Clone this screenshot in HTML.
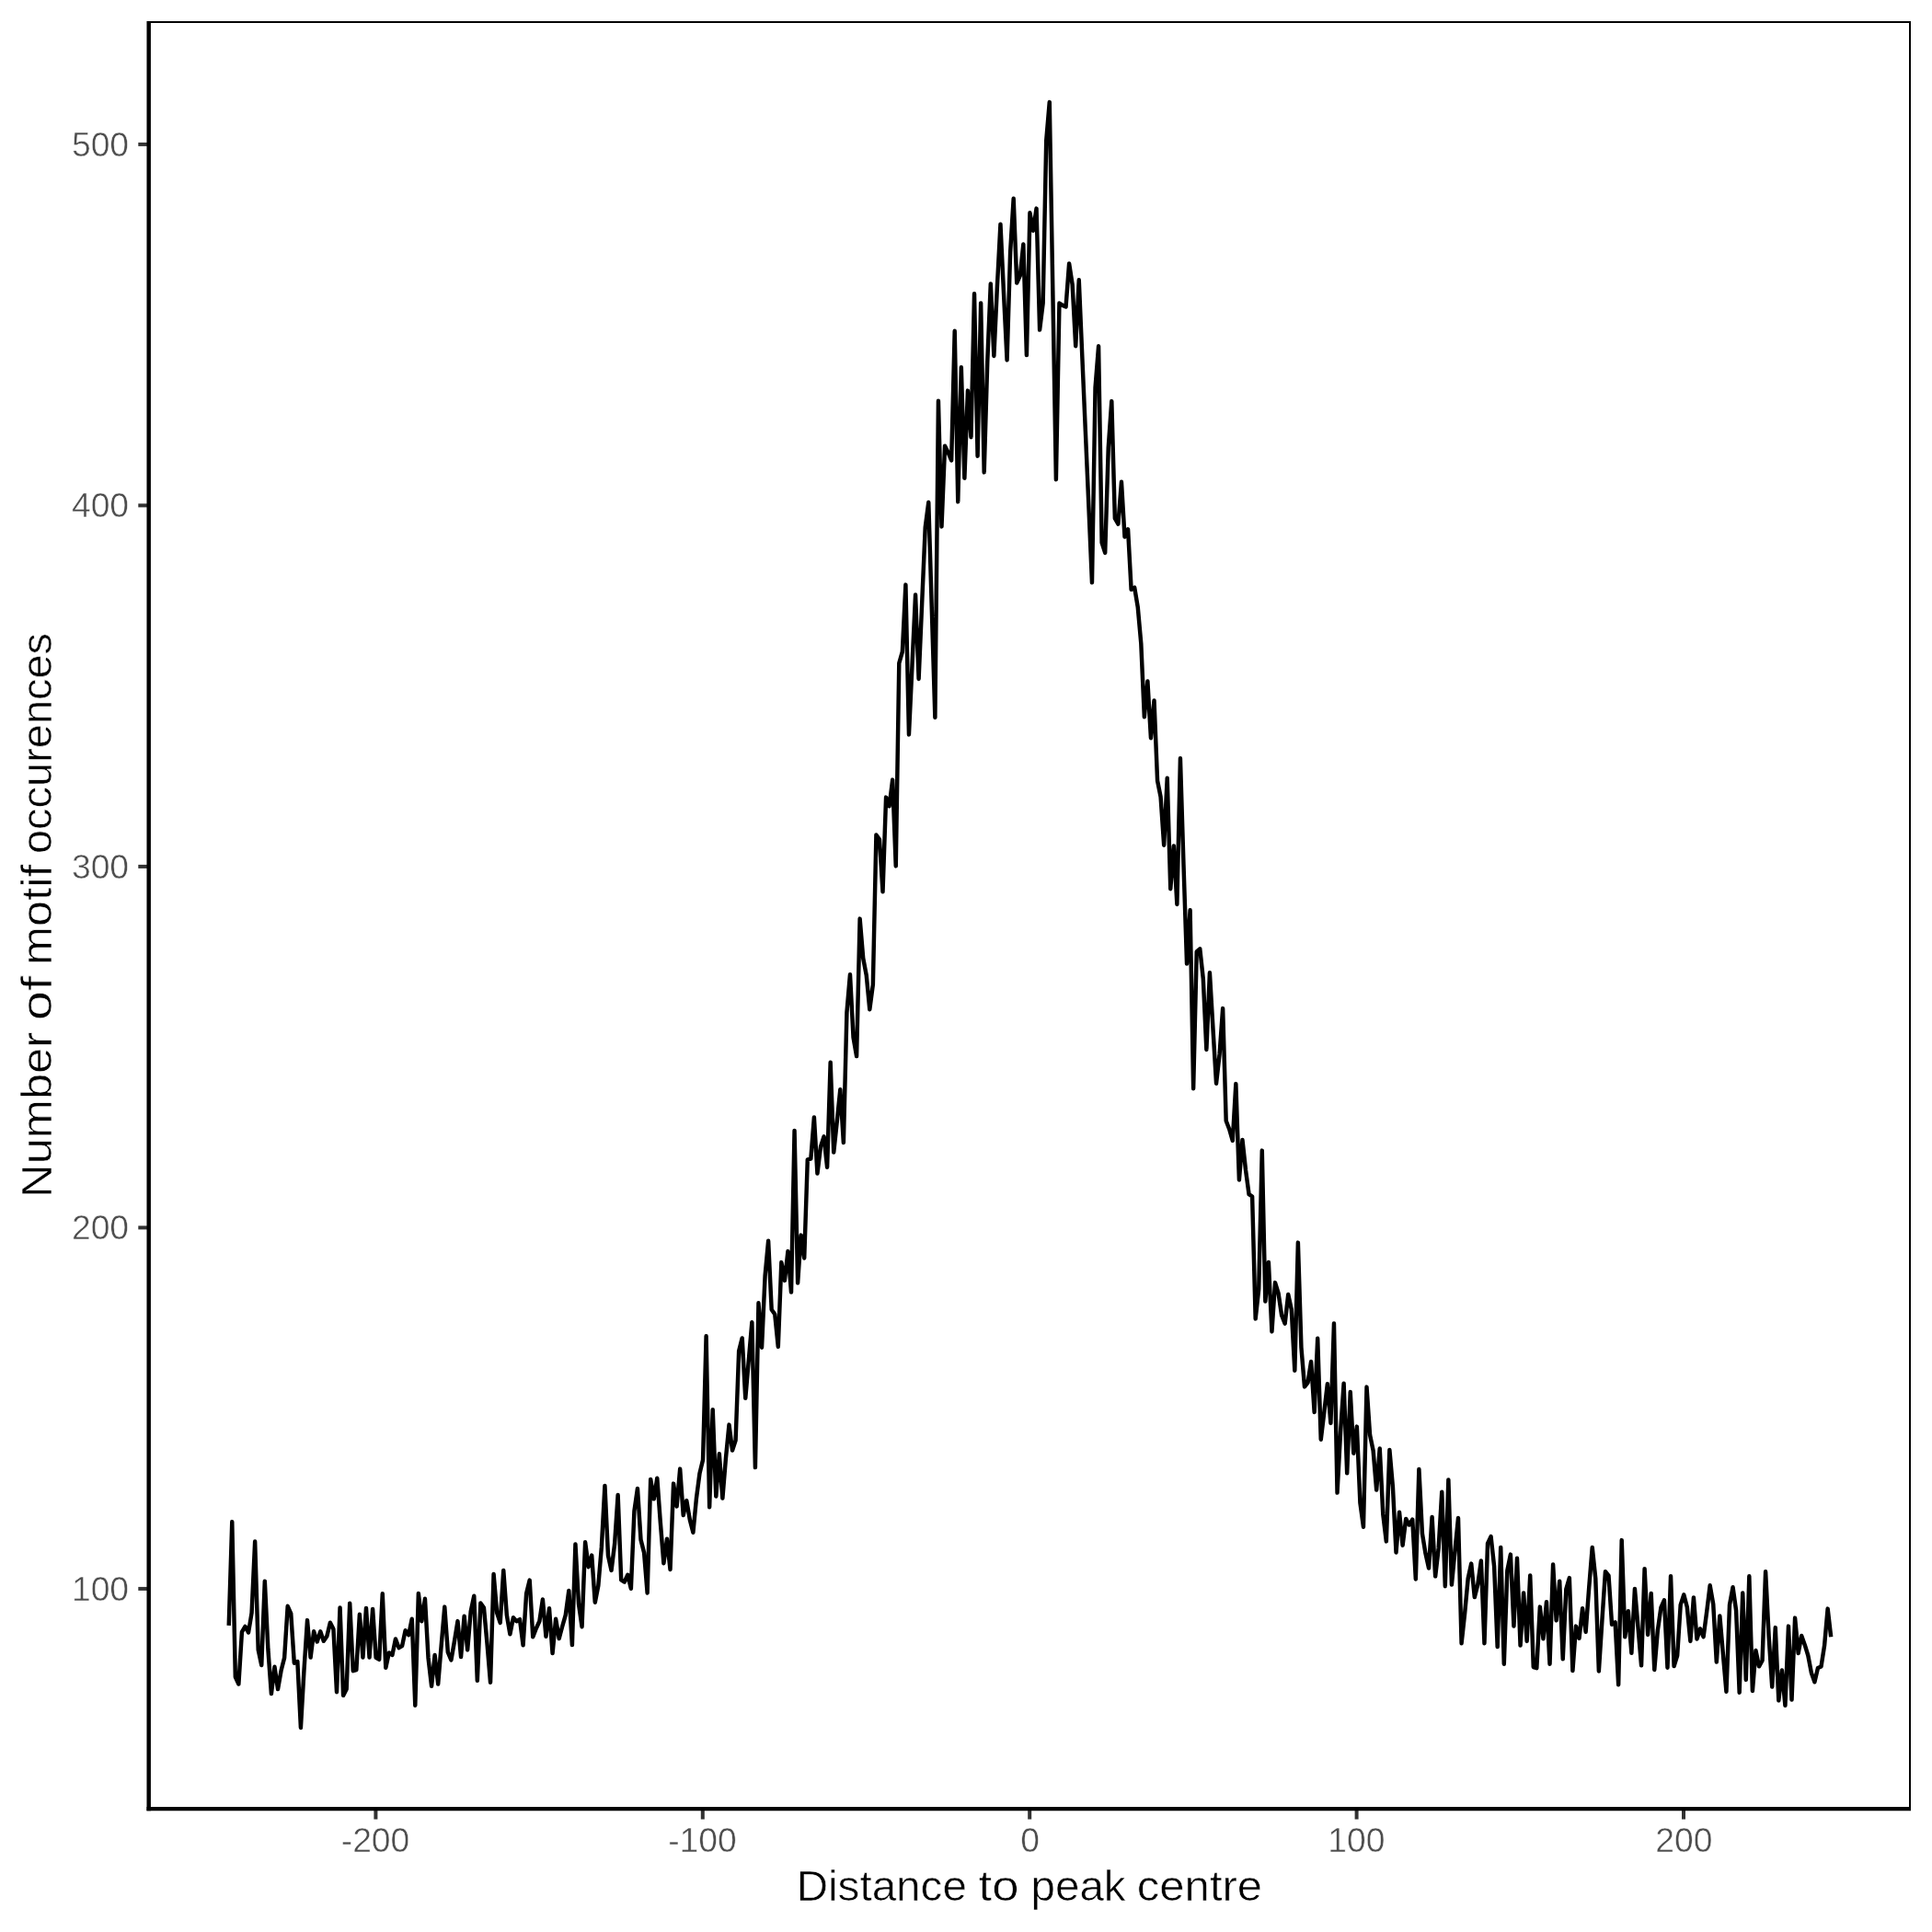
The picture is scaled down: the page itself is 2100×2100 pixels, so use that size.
<!DOCTYPE html><html><head><meta charset="utf-8"><style>html,body{margin:0;padding:0;background:#fff}svg{display:block;will-change:transform;transform:translateZ(0)}text{font-family:"Liberation Sans",sans-serif}</style></head><body>
<svg width="2100" height="2100" viewBox="0 0 2100 2100">
<rect x="0" y="0" width="2100" height="2100" fill="#fff"/>
<polyline fill="none" stroke="#000" stroke-width="4.45" stroke-linejoin="round" stroke-linecap="butt" points="248.72,1766.9 252.27,1654.1 255.83,1822.8 259.38,1830.5 262.94,1773.9 266.49,1767.8 270.04,1774.5 273.60,1753.0 277.15,1675.5 280.71,1793.3 284.26,1810.0 287.81,1718.7 291.37,1792.5 294.92,1841.1 298.48,1811.8 302.03,1836.1 305.58,1815.8 309.14,1801.9 312.69,1745.8 316.25,1754.0 319.80,1807.7 323.35,1806.0 326.91,1878.0 330.46,1815.8 334.02,1761.1 337.57,1801.6 341.12,1773.3 344.68,1784.5 348.23,1773.3 351.79,1783.8 355.34,1778.6 358.89,1763.7 362.45,1770.8 366.00,1839.2 369.56,1747.4 373.11,1842.9 376.66,1836.0 380.22,1742.7 383.77,1816.2 387.33,1815.1 390.88,1754.8 394.43,1801.6 397.99,1747.9 401.54,1801.6 405.10,1748.9 408.65,1801.9 412.20,1803.8 415.76,1732.3 419.31,1812.8 422.87,1796.4 426.42,1798.9 429.97,1781.5 433.53,1791.1 437.08,1789.1 440.64,1772.2 444.19,1777.1 447.74,1759.8 451.30,1853.8 454.85,1731.9 458.41,1762.2 461.96,1737.8 465.51,1801.9 469.07,1832.7 472.62,1798.9 476.18,1830.5 479.73,1787.9 483.28,1746.6 486.84,1796.0 490.39,1804.4 493.95,1784.0 497.50,1762.1 501.05,1801.0 504.61,1756.7 508.16,1793.4 511.72,1751.4 515.27,1734.7 518.82,1826.8 522.38,1742.4 525.93,1747.5 529.49,1786.3 533.04,1828.7 536.59,1710.9 540.15,1753.0 543.70,1763.9 547.26,1707.0 550.81,1755.3 554.36,1776.2 557.92,1758.3 561.47,1762.2 565.03,1760.2 568.58,1788.3 572.13,1732.0 575.69,1717.6 579.24,1779.3 582.80,1770.0 586.35,1762.3 589.90,1738.5 593.46,1778.8 597.01,1748.2 600.57,1797.0 604.12,1759.8 607.67,1781.1 611.23,1767.7 614.78,1755.3 618.34,1728.9 621.89,1788.1 625.44,1678.4 629.00,1743.5 632.55,1768.2 636.11,1676.3 639.66,1703.2 643.21,1690.6 646.77,1741.7 650.32,1723.6 653.88,1681.4 657.43,1614.9 660.98,1690.7 664.54,1706.9 668.09,1678.3 671.65,1625.0 675.20,1717.4 678.75,1719.5 682.31,1711.8 685.86,1726.8 689.42,1642.5 692.97,1617.9 696.52,1673.6 700.08,1687.6 703.63,1731.5 707.19,1607.9 710.74,1629.3 714.29,1606.7 717.85,1655.0 721.40,1699.2 724.96,1672.7 728.51,1706.0 732.06,1612.6 735.62,1637.4 739.17,1596.6 742.73,1647.1 746.28,1631.1 749.83,1651.9 753.39,1665.8 756.94,1628.6 760.50,1601.4 764.05,1586.7 767.60,1452.2 771.16,1638.3 774.71,1532.2 778.27,1626.5 781.82,1580.3 785.37,1628.5 788.93,1585.1 792.48,1548.6 796.04,1576.5 799.59,1565.5 803.14,1468.5 806.70,1454.4 810.25,1519.8 813.81,1478.6 817.36,1437.3 820.91,1595.1 824.47,1416.3 828.02,1464.7 831.58,1387.0 835.13,1348.8 838.68,1423.5 842.24,1428.6 845.79,1463.9 849.35,1372.1 852.90,1391.9 856.45,1360.1 860.01,1404.6 863.56,1228.9 867.12,1394.5 870.67,1342.6 874.22,1367.5 877.78,1260.4 881.33,1259.6 884.89,1214.5 888.44,1275.5 891.99,1246.4 895.55,1235.4 899.10,1268.7 902.66,1154.7 906.21,1252.6 909.76,1219.2 913.32,1184.2 916.87,1242.0 920.43,1100.5 923.98,1059.2 927.53,1127.6 931.09,1148.1 934.64,998.6 938.20,1041.5 941.75,1060.1 945.30,1097.3 948.86,1070.2 952.41,907.4 955.97,912.6 959.52,969.3 963.07,866.6 966.63,876.3 970.18,847.6 973.74,941.4 977.29,720.8 980.84,708.4 984.40,635.6 987.95,798.5 991.51,722.5 995.06,646.5 998.61,738.0 1002.17,655.6 1005.72,573.3 1009.28,546.0 1012.83,663.0 1016.38,779.9 1019.94,435.8 1023.49,572.4 1027.05,484.7 1030.60,491.8 1034.15,500.5 1037.71,359.7 1041.26,545.4 1044.82,399.3 1048.37,519.8 1051.92,424.6 1055.48,475.2 1059.03,319.3 1062.59,495.7 1066.14,329.4 1069.69,513.4 1073.25,393.2 1076.80,308.4 1080.36,387.0 1083.91,311.4 1087.46,243.7 1091.02,319.1 1094.57,391.4 1098.13,274.1 1101.68,215.8 1105.23,307.6 1108.79,299.7 1112.34,265.4 1115.90,386.1 1119.45,231.3 1123.00,250.7 1126.56,226.6 1130.11,358.6 1133.67,329.5 1137.22,153.0 1140.77,110.9 1144.33,316.0 1147.88,521.2 1151.44,329.5 1154.99,331.9 1158.54,333.5 1162.10,286.4 1165.65,309.4 1169.21,376.2 1172.76,304.3 1176.31,387.3 1179.87,469.1 1183.42,550.8 1186.98,633.3 1190.53,421.4 1194.08,376.3 1197.64,589.9 1201.19,600.9 1204.75,486.6 1208.30,436.1 1211.85,563.5 1215.41,569.6 1218.96,523.8 1222.52,583.6 1226.07,575.3 1229.62,640.8 1233.18,638.6 1236.73,659.8 1240.29,699.4 1243.84,779.3 1247.39,740.4 1250.95,802.2 1254.50,761.4 1258.06,848.5 1261.61,866.3 1265.16,918.7 1268.72,845.7 1272.27,966.2 1275.83,919.4 1279.38,983.0 1282.93,824.3 1286.49,939.8 1290.04,1047.6 1293.60,989.3 1297.15,1183.2 1300.70,1034.5 1304.26,1031.3 1307.81,1064.0 1311.37,1140.9 1314.92,1057.3 1318.47,1118.0 1322.03,1177.7 1325.58,1146.0 1329.14,1096.1 1332.69,1218.2 1336.24,1227.5 1339.80,1239.8 1343.35,1178.1 1346.91,1282.5 1350.46,1239.0 1354.01,1271.7 1357.57,1298.1 1361.12,1300.5 1364.68,1433.4 1368.23,1400.9 1371.78,1250.6 1375.34,1414.5 1378.89,1372.0 1382.45,1447.4 1386.00,1394.1 1389.55,1405.6 1393.11,1429.6 1396.66,1438.7 1400.22,1407.0 1403.77,1423.4 1407.32,1489.8 1410.88,1350.6 1414.43,1464.6 1417.99,1507.4 1421.54,1502.9 1425.09,1480.0 1428.65,1535.0 1432.20,1454.8 1435.76,1564.8 1439.31,1534.9 1442.86,1504.2 1446.42,1546.9 1449.97,1438.5 1453.53,1622.6 1457.08,1556.7 1460.63,1503.7 1464.19,1601.3 1467.74,1513.0 1471.30,1579.7 1474.85,1550.6 1478.40,1633.5 1481.96,1659.8 1485.51,1507.6 1489.07,1559.8 1492.62,1576.8 1496.17,1619.5 1499.73,1574.4 1503.28,1645.9 1506.84,1675.4 1510.39,1575.9 1513.94,1616.4 1517.50,1687.5 1521.05,1643.8 1524.61,1679.7 1528.16,1650.9 1531.71,1657.5 1535.27,1651.6 1538.82,1716.5 1542.38,1596.9 1545.93,1666.9 1549.48,1688.6 1553.04,1704.5 1556.59,1648.9 1560.15,1713.4 1563.70,1682.4 1567.25,1621.7 1570.81,1724.2 1574.36,1608.4 1577.92,1722.6 1581.47,1685.4 1585.02,1650.0 1588.58,1786.3 1592.13,1753.7 1595.69,1715.7 1599.24,1699.6 1602.79,1736.1 1606.35,1721.9 1609.90,1696.5 1613.46,1786.3 1617.01,1677.6 1620.56,1670.1 1624.12,1702.5 1627.67,1790.1 1631.23,1681.9 1634.78,1808.8 1638.33,1707.1 1641.89,1689.6 1645.44,1767.6 1649.00,1693.8 1652.55,1788.6 1656.10,1731.5 1659.66,1783.9 1663.21,1712.4 1666.77,1812.0 1670.32,1813.1 1673.87,1746.6 1677.43,1781.3 1680.98,1741.2 1684.54,1808.8 1688.09,1700.5 1691.64,1761.4 1695.20,1718.7 1698.75,1803.3 1702.31,1727.3 1705.86,1715.1 1709.41,1816.1 1712.97,1767.6 1716.52,1780.8 1720.08,1748.2 1723.63,1773.8 1727.18,1725.8 1730.74,1681.9 1734.29,1715.7 1737.85,1816.5 1741.40,1761.5 1744.95,1708.2 1748.51,1712.6 1752.06,1765.8 1755.62,1763.3 1759.17,1831.3 1762.72,1674.1 1766.28,1779.3 1769.83,1751.3 1773.39,1796.8 1776.94,1726.9 1780.49,1768.5 1784.05,1810.3 1787.60,1705.2 1791.16,1776.9 1794.71,1731.9 1798.26,1815.0 1801.82,1772.4 1805.37,1747.5 1808.93,1739.3 1812.48,1812.7 1816.03,1713.2 1819.59,1811.1 1823.14,1799.5 1826.70,1744.4 1830.25,1733.4 1833.80,1746.7 1837.36,1783.9 1840.91,1736.5 1844.47,1781.6 1848.02,1770.4 1851.57,1779.3 1855.13,1752.2 1858.68,1723.3 1862.24,1743.6 1865.79,1806.5 1869.34,1756.4 1872.90,1798.0 1876.45,1838.7 1880.01,1744.4 1883.56,1725.2 1887.11,1750.6 1890.67,1839.8 1894.22,1731.5 1897.78,1825.9 1901.33,1713.2 1904.88,1838.0 1908.44,1794.0 1911.99,1811.3 1915.55,1805.0 1919.10,1708.3 1922.65,1778.6 1926.21,1833.6 1929.76,1769.1 1933.32,1848.4 1936.87,1815.4 1940.42,1853.8 1943.98,1767.6 1947.53,1847.6 1951.09,1758.6 1954.64,1797.0 1958.19,1778.0 1961.75,1787.9 1965.30,1799.5 1968.86,1818.2 1972.41,1828.3 1975.96,1813.0 1979.52,1811.5 1983.07,1788.7 1986.63,1748.6 1990.18,1779.3"/>
<rect x="161.7" y="24.0" width="1914.3" height="1942.1" fill="none" stroke="#000" stroke-width="2.0"/>
<line x1="150.29999999999998" y1="1726.9" x2="161.7" y2="1726.9" stroke="#333" stroke-width="4.0"/>
<line x1="150.29999999999998" y1="1334.4" x2="161.7" y2="1334.4" stroke="#333" stroke-width="4.0"/>
<line x1="150.29999999999998" y1="941.9" x2="161.7" y2="941.9" stroke="#333" stroke-width="4.0"/>
<line x1="150.29999999999998" y1="549.4" x2="161.7" y2="549.4" stroke="#333" stroke-width="4.0"/>
<line x1="150.29999999999998" y1="156.9" x2="161.7" y2="156.9" stroke="#333" stroke-width="4.0"/>
<line x1="408.4" y1="1966.1" x2="408.4" y2="1977.5" stroke="#333" stroke-width="4.0"/>
<line x1="763.8" y1="1966.1" x2="763.8" y2="1977.5" stroke="#333" stroke-width="4.0"/>
<line x1="1119.2" y1="1966.1" x2="1119.2" y2="1977.5" stroke="#333" stroke-width="4.0"/>
<line x1="1474.6" y1="1966.1" x2="1474.6" y2="1977.5" stroke="#333" stroke-width="4.0"/>
<line x1="1830.0" y1="1966.1" x2="1830.0" y2="1977.5" stroke="#333" stroke-width="4.0"/>
<line x1="161.7" y1="23.0" x2="161.7" y2="1968.3249999999998" stroke="#000" stroke-width="4.45"/>
<line x1="159.475" y1="1966.1" x2="2077.0" y2="1966.1" stroke="#000" stroke-width="4.45"/>
<text transform="translate(77.94,1739.9) scale(1.007,1)" font-size="37.0" fill="#4d4d4d" stroke="#fff" stroke-width="0.5">100</text>
<text transform="translate(77.94,1347.4) scale(1.007,1)" font-size="37.0" fill="#4d4d4d" stroke="#fff" stroke-width="0.5">200</text>
<text transform="translate(77.94,954.9) scale(1.007,1)" font-size="37.0" fill="#4d4d4d" stroke="#fff" stroke-width="0.5">300</text>
<text transform="translate(77.94,562.4) scale(1.007,1)" font-size="37.0" fill="#4d4d4d" stroke="#fff" stroke-width="0.5">400</text>
<text transform="translate(77.94,169.9) scale(1.007,1)" font-size="37.0" fill="#4d4d4d" stroke="#fff" stroke-width="0.5">500</text>
<text transform="translate(370.74,2013) scale(1.007,1)" font-size="37.0" fill="#4d4d4d" stroke="#fff" stroke-width="0.5">-200</text>
<text transform="translate(726.14,2013) scale(1.007,1)" font-size="37.0" fill="#4d4d4d" stroke="#fff" stroke-width="0.5">-100</text>
<text transform="translate(1109.15,2013) scale(1.007,1)" font-size="37.0" fill="#4d4d4d" stroke="#fff" stroke-width="0.5">0</text>
<text transform="translate(1443.33,2013) scale(1.007,1)" font-size="37.0" fill="#4d4d4d" stroke="#fff" stroke-width="0.5">100</text>
<text transform="translate(1799.25,2013) scale(1.007,1)" font-size="37.0" fill="#4d4d4d" stroke="#fff" stroke-width="0.5">200</text>
<text transform="translate(865.66,2065.8) scale(1.0241,1)" font-size="46.5" fill="#000" stroke="#fff" stroke-width="0.6">Distance</text>
<text transform="translate(1063.55,2065.8) scale(1.1334,1)" font-size="46.5" fill="#000" stroke="#fff" stroke-width="0.6">to</text>
<text transform="translate(1120.50,2065.8) scale(1.0233,1)" font-size="46.5" fill="#000" stroke="#fff" stroke-width="0.6">peak</text>
<text transform="translate(1235.77,2065.8) scale(1.0555,1)" font-size="46.5" fill="#000" stroke="#fff" stroke-width="0.6">centre</text>
<text transform="translate(56.1,1301.90) rotate(-90) scale(1.0888,1)" font-size="46.5" fill="#000" stroke="#fff" stroke-width="0.6">Number</text>
<text transform="translate(56.1,1109.22) rotate(-90) scale(1.2476,1)" font-size="46.5" fill="#000" stroke="#fff" stroke-width="0.6">of</text>
<text transform="translate(56.1,1048.89) rotate(-90) scale(1.0851,1)" font-size="46.5" fill="#000" stroke="#fff" stroke-width="0.6">motif</text>
<text transform="translate(56.1,928.04) rotate(-90) scale(1.0101,1)" font-size="46.5" fill="#000" stroke="#fff" stroke-width="0.6">occurences</text>
</svg></body></html>
